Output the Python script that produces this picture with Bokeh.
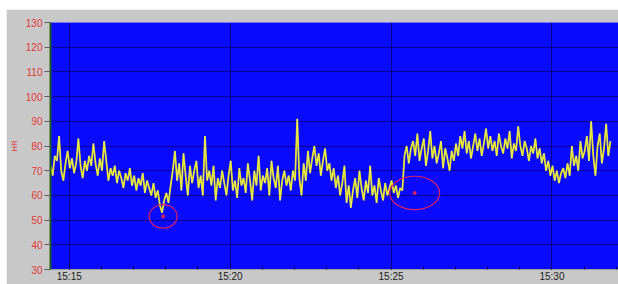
from datetime import datetime, timedelta
from bokeh.plotting import figure
from bokeh.models import (FixedTicker, DatetimeTickFormatter, Range1d, ColumnDataSource)
from bokeh.embed import file_html
from bokeh.resources import INLINE

# ---- data ----
start_time = datetime(2020, 1, 1, 15, 14, 25)
step_seconds = 4
hr_values = [
    72, 68, 76, 74, 84, 70, 66, 73, 78, 71,
    75, 69, 73, 83, 72, 67, 74, 70, 76, 72,
    81, 73, 68, 75, 70, 82, 74, 66, 71, 68,
    72, 65, 70, 67, 63, 69, 66, 71, 64, 68,
    62, 67, 64, 69, 61, 66, 63, 60, 65, 59,
    62, 56, 53, 58, 61, 57, 64, 70, 78, 66,
    73, 62, 77, 68, 60, 72, 65, 70, 74, 63,
    68, 60, 84, 66, 70, 64, 72, 58, 67, 63,
    70, 65, 60, 68, 74, 62, 66, 59, 71, 64,
    67, 61, 73, 66, 58, 70, 64, 76, 62, 68,
    65, 71, 60, 74, 67, 63, 72, 58, 66, 70,
    64, 68, 62, 70, 66, 91, 67, 60, 73, 66,
    78, 69, 75, 80, 72, 77, 68, 74, 79, 70,
    73, 66, 71, 63, 68, 60, 65, 72, 57, 64,
    55, 62, 67, 59, 70, 63, 58, 66, 61, 72,
    60, 64, 57, 67, 62, 58, 65, 60, 63, 66,
    61, 64, 59, 63, 62, 76, 80, 73, 79, 82,
    76, 85, 74, 79, 83, 72, 78, 86, 75, 80,
    73, 77, 82, 71, 79, 75, 70, 78, 74, 81,
    76, 84, 79, 86, 77, 82, 75, 80, 85, 78,
    83, 76, 81, 87, 79, 84, 78, 82, 76, 85,
    80, 77, 83, 79, 86, 75, 81, 78, 88, 80,
    76, 82, 79, 74, 80, 77, 83, 75, 79, 73,
    77, 70, 74, 68, 72, 66, 70, 65, 69, 71,
    67, 73, 68, 80, 72, 76, 70, 82, 75, 78,
    84, 74, 90, 76, 68, 80, 85, 73, 79, 89, 76, 82,
]
times = [start_time + timedelta(seconds=step_seconds * i) for i in range(len(hr_values))]

tick_labels = ["15:15", "15:20", "15:25", "15:30"]
y_ticks = [30, 40, 50, 60, 70, 80, 90, 100, 110, 120, 130]

# annotation circles (center time, center value, width seconds, height units)
mark_times = [datetime(2020, 1, 1, 15, 17, 55), datetime(2020, 1, 1, 15, 25, 44)]
mark_values = [51.5, 61.0]
mark_width_s = [52, 93]
mark_height = [9.5, 13.5]

x_start = datetime(2020, 1, 1, 15, 14, 25)
x_end = datetime(2020, 1, 1, 15, 32, 4)

def ms(t):
    return (t - datetime(1970, 1, 1)).total_seconds() * 1000.0

major = [ms(datetime(2020, 1, 1, int(s[:2]), int(s[3:]))) for s in tick_labels]
minor = [ms(datetime(2020, 1, 1, 15, 15) + timedelta(minutes=m)) for m in range(-1, 18)]

p = figure(width=612, height=275, x_axis_type="datetime",
           output_backend="svg", toolbar_location=None,
           x_range=Range1d(x_start, x_end), y_range=Range1d(30, 130),
           min_border_left=41, min_border_right=0, min_border_top=13, min_border_bottom=2)
p.margin = (9, 0, 0, 6)

p.background_fill_color = "#0a0aff"
p.border_fill_color = "#c8c8c8"
p.outline_line_color = None

# grid
p.xgrid.grid_line_color = "#000070"
p.xgrid.grid_line_alpha = 0.8
p.ygrid.grid_line_color = "#000070"
p.ygrid.grid_line_alpha = 0.75

# axes
p.xaxis.ticker = FixedTicker(ticks=major, minor_ticks=minor)
p.xaxis.formatter = DatetimeTickFormatter(minutes="%H:%M", hours="%H:%M", minsec="%H:%M",
                                          seconds="%H:%M", days="%H:%M")
p.xaxis.major_tick_out = 0
p.xaxis.major_tick_in = 5
p.xaxis.minor_tick_out = 0
p.xaxis.minor_tick_in = 3
p.xaxis.major_tick_line_color = "#000060"
p.xaxis.minor_tick_line_color = "#000060"
p.xaxis.axis_line_color = "#a0a0a0"
p.xaxis.major_label_standoff = 1
p.xaxis.major_label_text_font = "Liberation Sans"
p.xaxis.major_label_text_font_size = "10px"
p.xaxis.major_label_text_color = "#202020"

p.yaxis.ticker = FixedTicker(ticks=y_ticks)
p.yaxis.minor_tick_line_color = None
p.yaxis.major_tick_out = 6
p.yaxis.major_tick_in = 0
p.yaxis.major_tick_line_color = "#606060"
p.yaxis.axis_line_color = "#1a5a1a"
p.yaxis.axis_line_width = 2
p.yaxis.major_label_standoff = 2
p.yaxis.major_label_text_font = "Liberation Sans"
p.yaxis.major_label_text_font_size = "10px"
p.yaxis.major_label_text_color = "#e03838"
p.yaxis.axis_label = "HR"
p.yaxis.axis_label_text_color = "#e03838"
p.yaxis.axis_label_text_font = "Liberation Sans"
p.yaxis.axis_label_text_font_size = "8px"
p.yaxis.axis_label_text_font_style = "normal"
p.yaxis.axis_label_standoff = 4

src = ColumnDataSource(dict(t=times, v=hr_values))
p.line("t", "v", source=src, line_color="#d8d800", line_width=1.8)
p.line("t", "v", source=src, line_color="#f4f4b0", line_width=0.7, line_alpha=0.8)

msrc = ColumnDataSource(dict(t=mark_times, v=mark_values,
                             w=[s * 1000 for s in mark_width_s], h=mark_height))
p.ellipse(x="t", y="v", width="w", height="h", source=msrc,
          fill_color=None, line_color="#e02060", line_width=1.2)
p.scatter(x="t", y="v", source=msrc, size=3, color="#e02060")

open("out.html", "w").write(file_html(p, INLINE))
